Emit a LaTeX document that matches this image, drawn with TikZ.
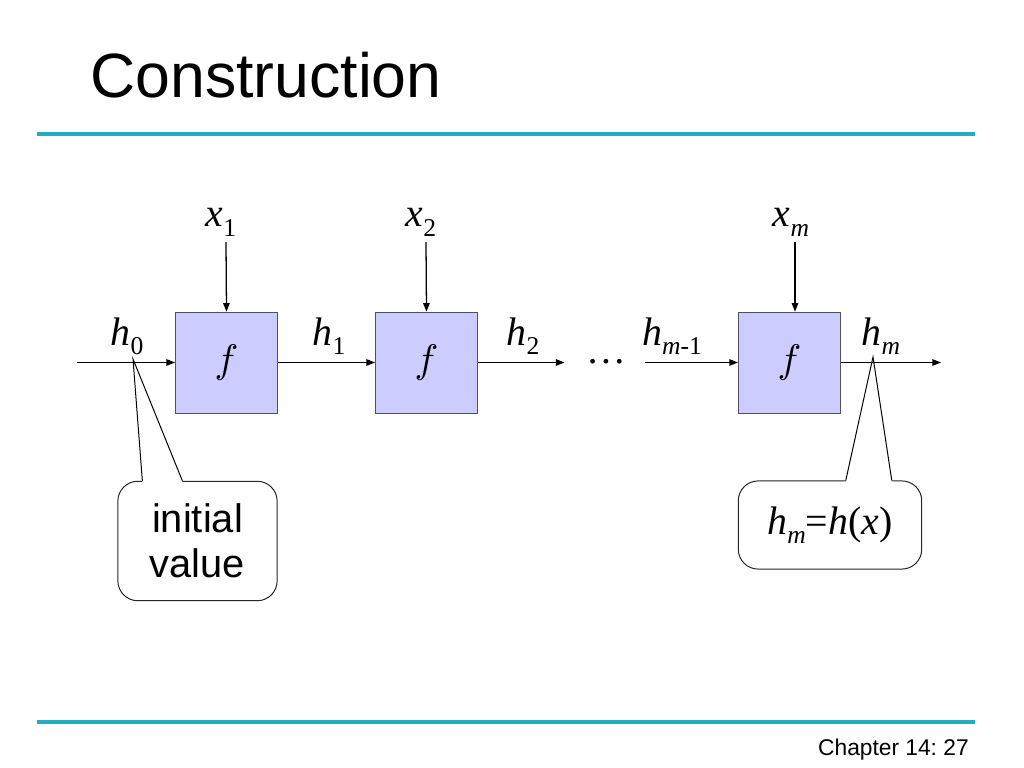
\documentclass[tikz,border=0pt]{standalone}
\usepackage{graphicx}
\usepackage{fontspec}
\setmainfont{Liberation Sans}
\newfontfamily\tms{Liberation Serif}
\usetikzlibrary{arrows.meta,calc}
\definecolor{rulecol}{RGB}{34,172,192}
\definecolor{boxfill}{RGB}{204,204,255}
\definecolor{boxline}{RGB}{80,80,96}
\newcommand{\sigvar}[2]{{\tms\fontsize{28}{30}\selectfont\textit{#1}\raisebox{-6.5pt}{\fontsize{18}{18}\selectfont #2}}}
\newcommand{\fsym}{\scalebox{2.8}{$f$}}
\begin{document}
\begin{tikzpicture}[x=0.703125pt,y=-0.703125pt]
		\tikzset{func/.style = {shape=rectangle,draw=boxline,fill=boxfill,minimum width=72pt,minimum height=71pt,inner sep=0pt}}
		\tikzset{sig/.style = {-{Triangle[length=6pt,width=4.5pt]},line width=0.9pt}}
		\tikzset{lbl/.style = {anchor=base,inner sep=0pt}}
		\tikzset{callout/.style = {shape=rectangle,draw=black!85,rounded corners=14pt,fill=white,line width=0.7pt}}
		\useasboundingbox (0,0) rectangle (1024,768);
		% title and rules
		\node[anchor=base west,inner sep=0pt,font=\fontsize{44}{50}\selectfont] (title) at (90,98) {Construction};
		\draw[rulecol,line width=3pt] (37,134) -- (975,134);
		\draw[rulecol,line width=3pt] (37,722) -- (975,722);
		\node[anchor=base east,inner sep=0pt,font=\fontsize{16}{18}\selectfont\frenchspacing] (page) at (969,755) {Chapter 14: 27};
		% callouts
		\node[callout,minimum width=112pt,minimum height=84pt,align=center,font=\fontsize{28}{32}\selectfont] (init) at (197.5,541) {initial\\value};
		\coordinate (tip0) at (133,359);
		\fill[white] ($(init.north west)+(25,1.5)$) -- (tip0) -- ($(init.north west)+(65,1.5)$) -- cycle;
		\draw[line width=0.7pt] ($(init.north west)+(25,0)$) -- (tip0) -- ($(init.north west)+(65,0)$);
		\node[callout,minimum width=129pt,minimum height=62pt] (hres) at (830,525) {\sigvar{h}{\textit{m}}{\tms\fontsize{28}{30}\selectfont=\textit{h}(\textit{x})}};
		\coordinate (tipm) at (873,357);
		\fill[white] ($(hres.north west)+(108,1.5)$) -- (tipm) -- ($(hres.north west)+(154,1.5)$) -- cycle;
		\draw[line width=0.7pt] ($(hres.north west)+(108,0)$) -- (tipm) -- ($(hres.north west)+(154,0)$);
		% compression steps
		\node[func] (f1) at (226.5,362.5) {\fsym};
		\node[func] (f2) at (426.5,362.5) {\fsym};
		\node[func] (fm) at (789.5,362.5) {\fsym};
		\node[lbl] (dots) at (606,363) {\tms\fontsize{28}{30}\selectfont\dots};
		% message blocks
		\node[lbl] (x1) at (221,227) {\sigvar{x}{1}};
		\node[lbl] (x2) at (421,227) {\sigvar{x}{2}};
		\node[lbl] (xm) at (791,227) {\sigvar{x}{\textit{m}}};
		\coordinate (in1) at (226,242);
		\coordinate (in2) at (426,242);
		\coordinate (inm) at (795,242);
		\draw[sig] (in1) -- (f1.north);
		\draw[sig] (in2) -- (f2.north);
		\draw[sig] (inm) -- (inm |- fm.north);
		% chaining values
		\node[lbl] (h0) at (127,345) {\sigvar{h}{0}};
		\node[lbl] (h1) at (329,345) {\sigvar{h}{1}};
		\node[lbl] (h2) at (523,345) {\sigvar{h}{2}};
		\node[lbl] (hm1) at (672,345) {\sigvar{h}{\textit{m}-1}};
		\node[lbl] (hm) at (881,345) {\sigvar{h}{\textit{m}}};
		\coordinate (hin) at (77,362.5);
		\coordinate (hout) at (941,362.5);
		\draw[sig] (hin) -- (f1.west);
		\draw[sig] (f1.east) -- (f2.west);
		\draw[sig,shorten >=15pt] (f2.east) -- (f2.east -| dots.west);
		\draw[sig,shorten <=13pt] (fm.west -| dots.east) -- (fm.west);
		\draw[sig] (fm.east) -- (hout);
	\end{tikzpicture}
\end{document}
